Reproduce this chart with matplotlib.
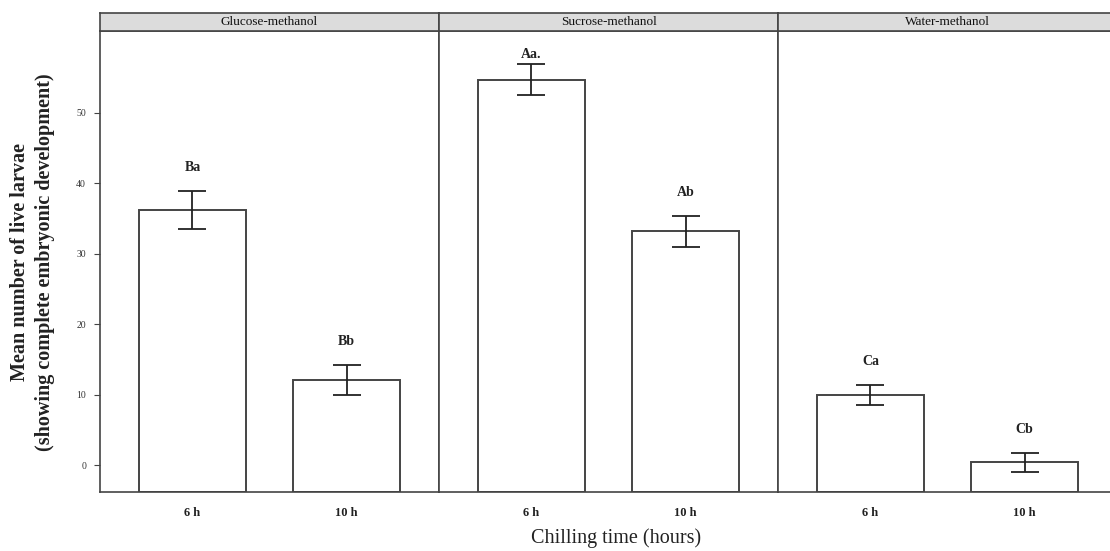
import matplotlib
matplotlib.use("Agg")
import matplotlib.pyplot as plt

# data
panels = ["Glucose-methanol", "Sucrose-methanol", "Water-methanol"]
times = ["6 h", "10 h"]
means = [[36.2, 12.1], [54.7, 33.2], [10.0, 0.4]]
errors = [[2.7, 2.1], [2.2, 2.2], [1.4, 1.4]]
letters = [["Ba", "Bb"], ["Aa.", "Ab"], ["Ca", "Cb"]]
yticks = [0, 10, 20, 30, 40, 50]

plt.rcParams['font.family'] = ['Liberation Serif', 'DejaVu Serif']

W, H = 1110, 551
fig = plt.figure(figsize=(W / 100, H / 100), dpi=100)

# panel geometry in pixels
left0 = 100
pw = 339
top_px = 31
bot_px = 492
strip_h = 18
edge = '#444444'
ymin, ymax = -3.8, 61.6

for i, name in enumerate(panels):
    x0 = (left0 + i * pw) / W
    ax = fig.add_axes([x0, 1 - bot_px / H, pw / W, (bot_px - top_px) / H])
    pos = [1, 2]
    heights = [m - ymin for m in means[i]]
    ax.bar(pos, heights, bottom=ymin, width=0.7, color='white', edgecolor=edge,
           linewidth=1.4)
    ax.errorbar(pos, means[i], yerr=errors[i], fmt='none', ecolor='#222222',
                elinewidth=1.3, capsize=10, capthick=1.3)
    for p, m, e, t in zip(pos, means[i], errors[i], letters[i]):
        ty = min(m + e + 2.4, 57.3)
        ax.text(p, ty, t, ha='center', va='bottom', fontsize=10,
                fontweight='bold', color='#222222')
    ax.set_xlim(0.4, 2.6)
    ax.set_ylim(ymin, ymax)
    ax.set_xticks(pos)
    ax.set_xticklabels(times, fontsize=9, fontweight='bold', color='#222222')
    ax.tick_params(axis='x', length=0, pad=11)
    ax.set_yticks(yticks)
    if i == 0:
        ax.set_yticklabels([str(v) for v in yticks], fontsize=7, color='#333333')
        ax.tick_params(axis='y', length=4, width=0.8, color='#444444', pad=6)
    else:
        ax.tick_params(axis='y', left=False, labelleft=False)
    for s in ax.spines.values():
        s.set_color(edge)
        s.set_linewidth(1.2)

    # strip header
    sx = fig.add_axes([x0, 1 - top_px / H, pw / W, strip_h / H])
    sx.set_facecolor('#dcdcdc')
    sx.set_xticks([])
    sx.set_yticks([])
    for s in sx.spines.values():
        s.set_color(edge)
        s.set_linewidth(1.2)
    sx.text(0.5, 0.5, name, ha='center', va='center', fontsize=9.5,
            color='#111111', transform=sx.transAxes)

fig.text(0.029, 1 - 262 / H, "Mean number of live larvae\n(showing complete embryonic development)",
         rotation=90, ha='center', va='center', fontsize=14.5, fontweight='bold',
         linespacing=1.35, color='#222222')
fig.text(616 / W, 1 - 538 / H, "Chilling time (hours)", ha='center', va='center',
         fontsize=14.5, color='#222222')

fig.savefig("out.png", dpi=100)
